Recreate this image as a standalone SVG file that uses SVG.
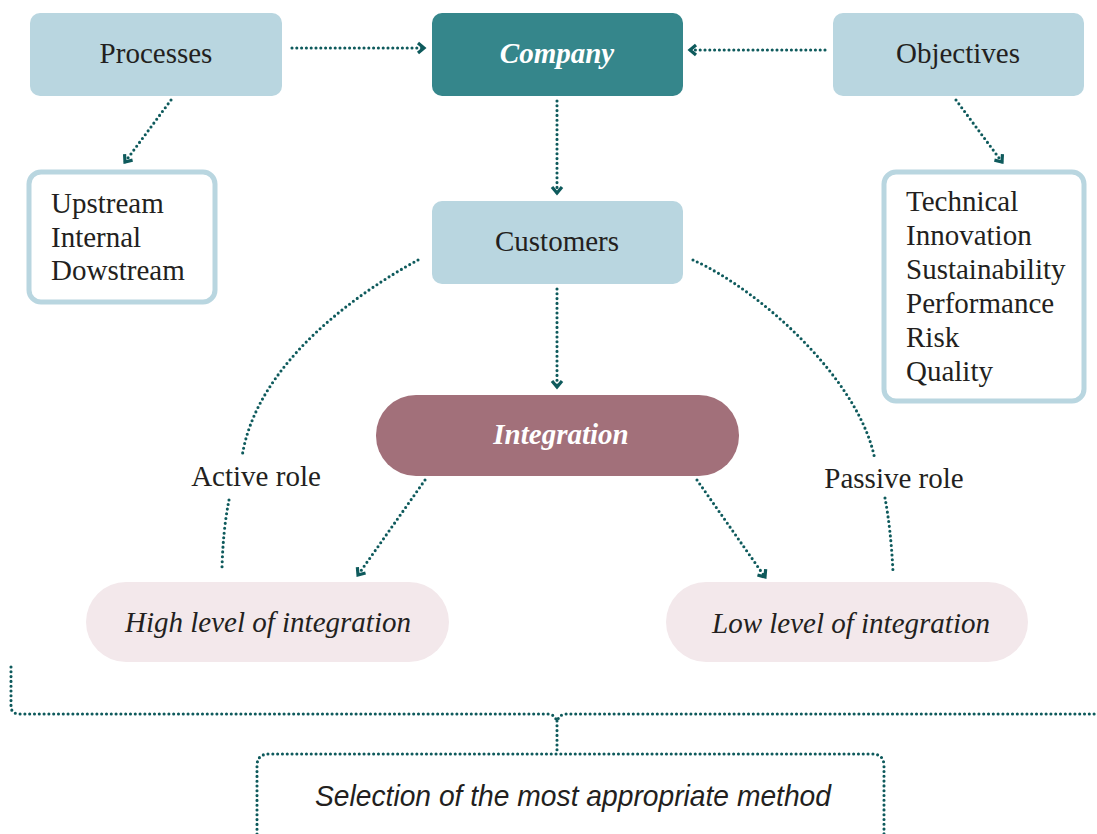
<svg xmlns="http://www.w3.org/2000/svg" width="1097" height="834" viewBox="0 0 1097 834">
<style>
.blue{fill:#b9d6e0}
.list{fill:#fff;stroke:#b9d6e0;stroke-width:5}
.serif{font-family:"Liberation Serif","Times New Roman",serif;font-size:29px;fill:#231f20}
.c{text-anchor:middle}
.bi{font-weight:bold;font-style:italic;fill:#fff}
.it{font-style:italic}
.dot{fill:none;stroke:#0e5a5c;stroke-width:3.1;stroke-dasharray:0 4.8;stroke-linecap:round}
</style>
<defs>
<marker id="ah" markerUnits="userSpaceOnUse" markerWidth="16" markerHeight="16" viewBox="-10 -8 14 16" refX="0" refY="0" orient="auto">
<path d="M-6,-5 L0,0 L-6,5" fill="none" stroke="#0e5a5c" stroke-width="3.2" stroke-linejoin="miter"/>
</marker>
</defs>
<g id="processes"><rect class="blue" x="30" y="13" width="252" height="83" rx="10"/><text class="serif c" x="156" y="63">Processes</text></g>
<g id="company"><rect fill="#35868b" x="432" y="13" width="251" height="83" rx="10"/><text class="serif c bi" x="557" y="63">Company</text></g>
<g id="objectives"><rect class="blue" x="833" y="13" width="251" height="83" rx="10"/><text class="serif c" x="958" y="63">Objectives</text></g>
<g id="process-list"><rect class="list" x="29" y="172" width="186" height="130" rx="12"/>
<text class="serif" x="51" y="213">Upstream</text><text class="serif" x="51" y="247">Internal</text><text class="serif" x="51" y="280">Dowstream</text></g>
<g id="objective-list"><rect class="list" x="884" y="172" width="200" height="229" rx="12"/>
<text class="serif" x="906" y="211">Technical</text><text class="serif" x="906" y="245">Innovation</text><text class="serif" x="906" y="279">Sustainability</text><text class="serif" x="906" y="313">Performance</text><text class="serif" x="906" y="347">Risk</text><text class="serif" x="906" y="381">Quality</text></g>
<g id="customers"><rect class="blue" x="432" y="201" width="251" height="83" rx="10"/><text class="serif c" x="557" y="251">Customers</text></g>
<g id="integration"><rect fill="#a2707a" x="376" y="395" width="363" height="81" rx="40"/><text class="serif c bi" x="561" y="444">Integration</text></g>
<g id="high"><rect fill="#f3e8eb" x="86" y="582" width="363" height="80" rx="40"/><text class="serif c it" x="268" y="632">High level of integration</text></g>
<g id="low"><rect fill="#f3e8eb" x="666" y="582" width="362" height="80" rx="40"/><text class="serif c it" x="851" y="633">Low level of integration</text></g>
<g id="labels"><text class="serif c" x="256" y="486">Active role</text><text class="serif c" x="894" y="488">Passive role</text></g>
<g id="selection"><path class="dot" d="M257,834 L257,766 Q257,754 269,754 L872,754 Q884,754 884,766 L884,834"/>
<text x="573" y="806" text-anchor="middle" font-family="'Liberation Sans',Arial,sans-serif" font-style="italic" font-size="29" fill="#231f20" textLength="516" lengthAdjust="spacingAndGlyphs">Selection of the most appropriate method</text></g>
<g id="connectors">
<path class="dot" marker-end="url(#ah)" d="M292,48 L424,48"/>
<path class="dot" marker-end="url(#ah)" d="M825,50 L690,50"/>
<path class="dot" marker-end="url(#ah)" d="M557,101 L557,193"/>
<path class="dot" marker-end="url(#ah)" d="M171,100 L125,162"/>
<path class="dot" marker-end="url(#ah)" d="M956,100 L1002,162"/>
<path class="dot" marker-end="url(#ah)" d="M557,289 L557,387"/>
<path class="dot" marker-end="url(#ah)" d="M425,480 L358,575"/>
<path class="dot" marker-end="url(#ah)" d="M697,480 L765,577"/>
<path class="dot" d="M418,260 C357,293 256,364 242,457"/>
<path class="dot" d="M229,500 Q223,530 222,568"/>
<path class="dot" d="M693,260 C760,290 860,380 875,460"/>
<path class="dot" d="M885,498 Q891,530 893,572"/>
<path class="dot" d="M11,667 L11,706 Q11,714 20,714 L548,714 Q554,714 557,721 Q560,714 566,714 L1095,714"/>
<path class="dot" d="M557,721 L557,754"/>
</g>
</svg>
